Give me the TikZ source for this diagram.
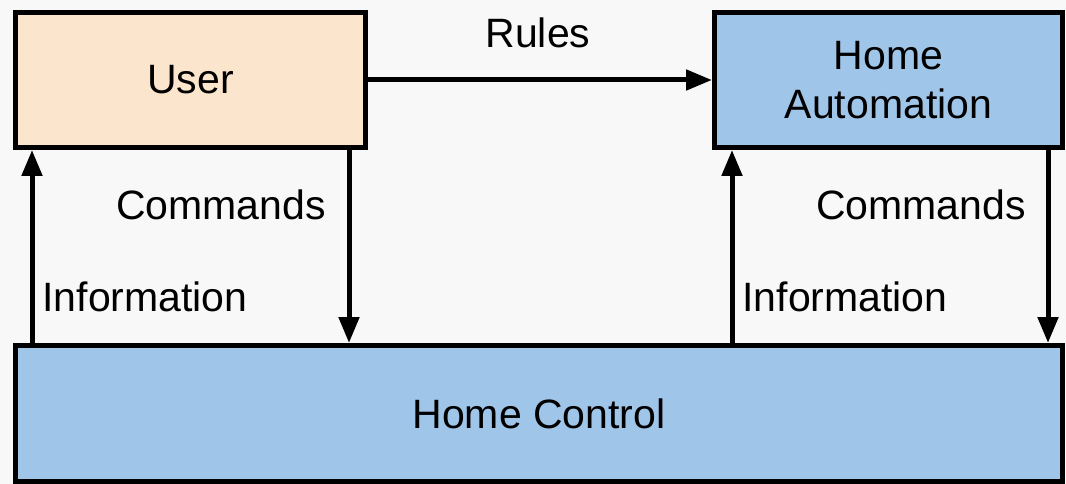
\documentclass[tikz,border=0pt]{standalone}
\usepackage{fontspec}
\setmainfont{Liberation Sans}
\usetikzlibrary{arrows.meta}
\definecolor{bgcol}{HTML}{F8F8F8}
\definecolor{peach}{HTML}{FCE5CD}
\definecolor{skyblue}{HTML}{9FC5E8}
\begin{document}
\begin{tikzpicture}[x=1pt,y=-1pt,
  blockbox/.style={draw=black,line width=5pt,rectangle,inner sep=0pt,align=center,
    font=\fontsize{41}{49}\selectfont},
  lbl/.style={font=\fontsize{41}{48}\selectfont,inner sep=0pt},
  arr/.style={line width=5pt,-{Triangle[length=26pt,width=20pt]}}]
  \fill[bgcol] (0,0) rectangle (1066,484);
  \useasboundingbox (0,0) rectangle (1066,484);

  \node[blockbox,fill=peach,minimum width=350pt,minimum height=135pt] (user) at (190.5,80) {User};
  \node[blockbox,fill=skyblue,minimum width=348pt,minimum height=135pt] (auto) at (888.5,80) {Home\\Automation};
  \node[blockbox,fill=skyblue,minimum width=1047pt,minimum height=136pt] (ctrl) at (539,413.5) {Home Control};

  \coordinate (xa) at (32,0);
  \coordinate (xb) at (349,0);
  \coordinate (xc) at (732,0);
  \coordinate (xd) at (1048,0);

  \draw[arr] (user.east) -- (auto.west);
  \draw[arr] (ctrl.north -| xa) -- (user.south -| xa);
  \draw[arr] (user.south -| xb) -- (ctrl.north -| xb);
  \draw[arr] (ctrl.north -| xc) -- (auto.south -| xc);
  \draw[arr] (auto.south -| xd) -- (ctrl.north -| xd);

  \node[lbl] (rules) at (538,33) {Rules};
  \node[lbl] (cmdl) at (221,205) {Commands};
  \node[lbl] (infl) at (145,297) {Information};
  \node[lbl] (cmdr) at (921,205) {Commands};
  \node[lbl] (infr) at (845,297) {Information};
\end{tikzpicture}
\end{document}
